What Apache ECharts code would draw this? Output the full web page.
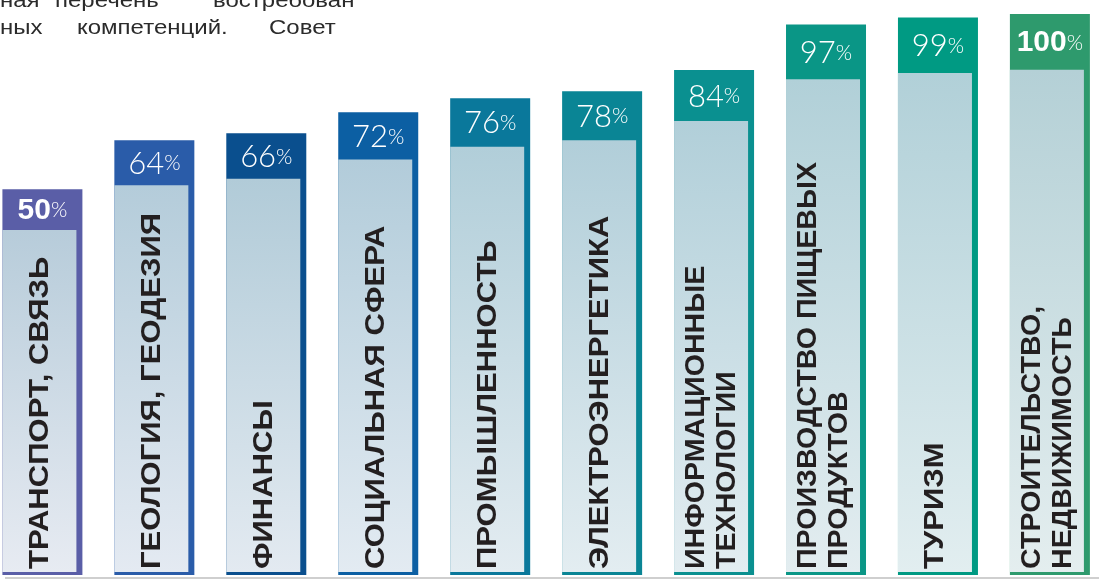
<!DOCTYPE html>
<html><head><meta charset="utf-8">
<script src="https://cdn.jsdelivr.net/npm/echarts@6/dist/echarts.min.js"></script>
<style>html,body{margin:0;padding:0;background:#fff}#c{width:1099px;height:579px}</style>
</head><body><div id="c"></div>
<script>
// ---- data ----
const categories = [
  'ТРАНСПОРТ, СВЯЗЬ',
  'ГЕОЛОГИЯ, ГЕОДЕЗИЯ',
  'ФИНАНСЫ',
  'СОЦИАЛЬНАЯ СФЕРА',
  'ПРОМЫШЛЕННОСТЬ',
  'ЭЛЕКТРОЭНЕРГЕТИКА',
  'ИНФОРМАЦИОННЫЕ\nТЕХНОЛОГИИ',
  'ПРОИЗВОДСТВО ПИЩЕВЫХ\nПРОДУКТОВ',
  'ТУРИЗМ',
  'СТРОИТЕЛЬСТВО,\nНЕДВИЖИМОСТЬ'
];
const values = [50, 64, 66, 72, 76, 78, 84, 97, 99, 100];
const valueSuffix = '%';
const introLine1 = ['ная', 'перечень', 'востребован'];
const introLine2 = ['ных', 'компетенций.', 'Совет'];

// ---- style ----
const colors = ['#5a5ea7', '#2a5ca9', '#0a4f8e', '#0c5fa3', '#0a789b', '#0a8595', '#0a9090', '#0a9686', '#009a83', '#2e9a6d'];
const boldIdx = [0, 9];
const Y_MIN = -60, Y_MAX = 100;
const X_MIN = -0.3788, X_MAX = 9.4386;

function hex(c){c=c.replace('#','');return [parseInt(c.substr(0,2),16),parseInt(c.substr(2,2),16),parseInt(c.substr(4,2),16)];}
function mix(a,b,t){const A=hex(a),B=hex(b);return 'rgb('+A.map((v,i)=>Math.round(v*(1-t)+B[i]*t)).join(',')+')';}

const introStyle = {fontFamily:'Liberation Sans, Arial', fontSize:20, fill:'#2b2b2b', verticalAlign:'middle'};
function introText(txt, x, baseline){
  return {type:'text', x:x, y:baseline-7, scaleX:1.2, style:Object.assign({text:txt}, introStyle)};
}

const chart = echarts.init(document.getElementById('c'), null, {renderer:'canvas'});
const option = {
  animation:false,
  grid:{left:0, right:0, top:14, bottom:4},
  xAxis:{type:'value', min:X_MIN, max:X_MAX, show:false},
  yAxis:{type:'value', min:Y_MIN, max:Y_MAX, show:false},
  series:[{
    type:'custom',
    data: values.map((v,i)=>[i,v]),
    renderItem:function(params, api){
      const i = api.value(0), v = api.value(1);
      const top = api.coord([i, v]);
      const base = api.coord([i, Y_MIN]);
      const barW = 80;
      const x0 = top[0] - barW/2;
      const h = base[1] - top[1];
      const head = 8 + 0.085*h;
      const col = colors[i];
      const bold = boldIdx.indexOf(i) >= 0;
      const innerW = barW - 6;
      const numTxt = bold ? '{b|'+v+'}{p|'+valueSuffix+'}' : '{n|'+v+'}{p|'+valueSuffix+'}';
      const twoLine = categories[i].indexOf('\n') >= 0;
      return {type:'group', children:[
        {type:'rect', shape:{x:x0, y:top[1], width:barW, height:h}, style:{fill:col}},
        {type:'rect', shape:{x:x0, y:top[1]+head, width:innerW, height:h-head-3},
          style:{fill:new echarts.graphic.LinearGradient(0,0,0,1,[
            {offset:0, color:mix('#bed4de', col, 0.07)},
            {offset:1, color:mix('#eef2f6', col, 0.05)}])}},
        {type:'text', x:x0+barW/2, y:top[1]+head/2+1,
          style:{text:numTxt, align:'center', verticalAlign:'middle',
            rich:{
              n:{fontFamily:'Lato', fontWeight:300, fontSize:31, fill:'#fff'},
              b:{fontFamily:'Liberation Sans, Arial', fontWeight:'bold', fontSize:30, fill:'#fff'},
              p:{fontFamily:'Lato', fontWeight:300, fontSize:21, fill:'#fff'}
            }}},
        {type:'text', x:x0+innerW/2+1, y:base[1]-6, rotation:Math.PI/2,
          scaleX: twoLine ? 1.06 : 1.15,
          style:{text:categories[i], align:'left', verticalAlign:'middle',
            fontFamily:'Liberation Sans, Arial', fontWeight:'bold', fontSize:27,
            lineHeight:31, fill:'#231f20'}}
      ]};
    }
  }],
  graphic:[
    {type:'line', shape:{x1:5, y1:578, x2:1099, y2:578}, style:{stroke:'#cfcfcf', lineWidth:2}},
    introText(introLine1[0], 0, 8),
    introText(introLine1[1], 55, 8),
    introText(introLine1[2], 213, 8),
    introText(introLine2[0], 0, 35),
    introText(introLine2[1], 77, 35),
    introText(introLine2[2], 269, 35)
  ]
};
chart.setOption(option);
</script></body></html>
